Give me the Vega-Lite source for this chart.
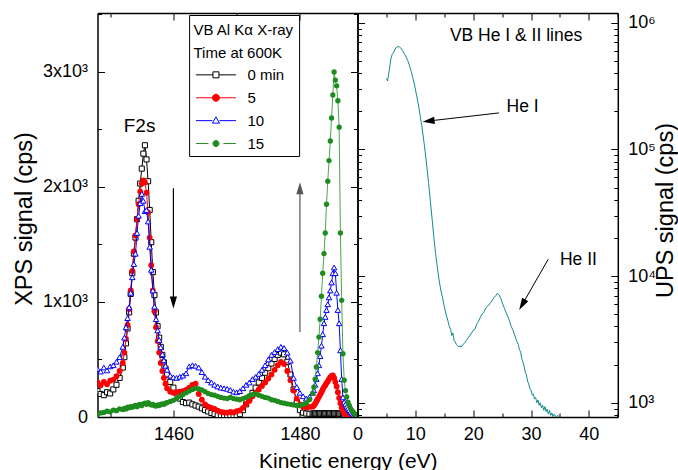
{
"$schema": "https://vega.github.io/schema/vega-lite/v6.json",
"padding": {"left": 12.5, "top": 5, "right": 0, "bottom": 0},
"bounds": "flush",
"spacing": 0,
"config": {
  "font": "Liberation Sans",
  "view": {"stroke": null},
  "axis": {"grid": false, "domainColor": "black", "domainWidth": 1.5, "tickColor": "black", "tickWidth": 1, "labelColor": "black", "titleColor": "black", "labelFontSize": 18, "titleFontWeight": "normal", "labelFlush": false, "labelOverlap": false, "labelBound": false}
},
"resolve": {"legend": {"stroke": "independent", "fill": "independent", "shape": "independent"}},
"datasets": {
"xps": [
{"s":"0 min","e":1448,"v":225},{"s":"0 min","e":1448.5,"v":200},{"s":"0 min","e":1449,"v":190},{"s":"0 min","e":1449.5,"v":215},{"s":"0 min","e":1450,"v":205},{"s":"0 min","e":1450.5,"v":240},{"s":"0 min","e":1451,"v":280},{"s":"0 min","e":1451.5,"v":340},
{"s":"0 min","e":1452,"v":430},{"s":"0 min","e":1452.25,"v":520},{"s":"0 min","e":1452.5,"v":640},{"s":"0 min","e":1452.75,"v":770},{"s":"0 min","e":1453,"v":910},{"s":"0 min","e":1453.25,"v":1070},{"s":"0 min","e":1453.5,"v":1250},{"s":"0 min","e":1453.75,"v":1420},{"s":"0 min","e":1454,"v":1560},{"s":"0 min","e":1454.25,"v":1720},{"s":"0 min","e":1454.5,"v":1880},{"s":"0 min","e":1454.75,"v":2030},{"s":"0 min","e":1455,"v":2160},{"s":"0 min","e":1455.25,"v":2290},{"s":"0 min","e":1455.5,"v":2363},{"s":"0 min","e":1455.75,"v":2240},{"s":"0 min","e":1456,"v":2050},{"s":"0 min","e":1456.25,"v":1800},{"s":"0 min","e":1456.5,"v":1520},{"s":"0 min","e":1456.75,"v":1260},{"s":"0 min","e":1457,"v":1060},{"s":"0 min","e":1457.25,"v":910},{"s":"0 min","e":1457.5,"v":790},{"s":"0 min","e":1457.75,"v":690},{"s":"0 min","e":1458,"v":610},{"s":"0 min","e":1458.25,"v":540},{"s":"0 min","e":1458.5,"v":475},{"s":"0 min","e":1458.75,"v":420},
{"s":"0 min","e":1459,"v":370},{"s":"0 min","e":1459.5,"v":305},{"s":"0 min","e":1460,"v":255},{"s":"0 min","e":1460.5,"v":205},{"s":"0 min","e":1461,"v":160},{"s":"0 min","e":1461.5,"v":130},{"s":"0 min","e":1462,"v":120},{"s":"0 min","e":1462.5,"v":125},{"s":"0 min","e":1463,"v":110},{"s":"0 min","e":1463.5,"v":100},{"s":"0 min","e":1464,"v":90},{"s":"0 min","e":1464.5,"v":75},{"s":"0 min","e":1465,"v":60},{"s":"0 min","e":1465.5,"v":48},{"s":"0 min","e":1466,"v":35},{"s":"0 min","e":1466.5,"v":25},{"s":"0 min","e":1467,"v":15},{"s":"0 min","e":1467.5,"v":10},{"s":"0 min","e":1468,"v":8},{"s":"0 min","e":1468.5,"v":10},{"s":"0 min","e":1469,"v":6},{"s":"0 min","e":1469.5,"v":8},{"s":"0 min","e":1470,"v":12},{"s":"0 min","e":1470.5,"v":25},{"s":"0 min","e":1471,"v":60},{"s":"0 min","e":1471.5,"v":110},{"s":"0 min","e":1472,"v":160},{"s":"0 min","e":1472.5,"v":210},{"s":"0 min","e":1473,"v":255},{"s":"0 min","e":1473.5,"v":300},{"s":"0 min","e":1474,"v":340},{"s":"0 min","e":1474.5,"v":385},{"s":"0 min","e":1475,"v":425},{"s":"0 min","e":1475.5,"v":465},{"s":"0 min","e":1476,"v":505},{"s":"0 min","e":1476.5,"v":540},{"s":"0 min","e":1477,"v":560},{"s":"0 min","e":1477.5,"v":545},{"s":"0 min","e":1478,"v":480},{"s":"0 min","e":1478.5,"v":370},{"s":"0 min","e":1479,"v":240},{"s":"0 min","e":1479.5,"v":130},{"s":"0 min","e":1480,"v":60},{"s":"0 min","e":1480.5,"v":38},{"s":"0 min","e":1481,"v":30},{"s":"0 min","e":1481.5,"v":28},
{"s":"0 min","e":1482,"v":30},{"s":"0 min","e":1482.2,"v":28},{"s":"0 min","e":1482.4,"v":32},{"s":"0 min","e":1482.6,"v":30},{"s":"0 min","e":1482.8,"v":27},{"s":"0 min","e":1483,"v":31},{"s":"0 min","e":1483.2,"v":29},{"s":"0 min","e":1483.4,"v":30},{"s":"0 min","e":1483.6,"v":33},{"s":"0 min","e":1483.8,"v":28},{"s":"0 min","e":1484,"v":30},{"s":"0 min","e":1484.2,"v":31},{"s":"0 min","e":1484.4,"v":29},{"s":"0 min","e":1484.6,"v":30},{"s":"0 min","e":1484.8,"v":32},{"s":"0 min","e":1485,"v":30},{"s":"0 min","e":1485.2,"v":28},{"s":"0 min","e":1485.4,"v":30},{"s":"0 min","e":1485.6,"v":31},{"s":"0 min","e":1485.8,"v":29},{"s":"0 min","e":1486,"v":30},{"s":"0 min","e":1486.2,"v":28},{"s":"0 min","e":1486.4,"v":27},{"s":"0 min","e":1486.6,"v":25},{"s":"0 min","e":1486.8,"v":22},{"s":"0 min","e":1487,"v":20},{"s":"0 min","e":1487.2,"v":18},{"s":"0 min","e":1487.4,"v":15},{"s":"0 min","e":1487.6,"v":12},{"s":"0 min","e":1487.8,"v":10},{"s":"0 min","e":1488,"v":8},{"s":"0 min","e":1488.2,"v":6},{"s":"0 min","e":1488.4,"v":5},{"s":"0 min","e":1488.6,"v":4},{"s":"0 min","e":1488.8,"v":3},{"s":"0 min","e":1489,"v":2},

{"s":"5","e":1448,"v":300},{"s":"5","e":1448.5,"v":275},{"s":"5","e":1449,"v":305},{"s":"5","e":1449.5,"v":285},{"s":"5","e":1450,"v":315},{"s":"5","e":1450.5,"v":325},{"s":"5","e":1451,"v":355},{"s":"5","e":1451.5,"v":400},
{"s":"5","e":1452,"v":470},{"s":"5","e":1452.25,"v":560},{"s":"5","e":1452.5,"v":680},{"s":"5","e":1452.75,"v":800},{"s":"5","e":1453,"v":940},{"s":"5","e":1453.25,"v":1100},{"s":"5","e":1453.5,"v":1270},{"s":"5","e":1453.75,"v":1440},{"s":"5","e":1454,"v":1580},{"s":"5","e":1454.25,"v":1720},{"s":"5","e":1454.5,"v":1850},{"s":"5","e":1454.75,"v":1960},{"s":"5","e":1455,"v":2030},{"s":"5","e":1455.25,"v":2058},{"s":"5","e":1455.5,"v":2040},{"s":"5","e":1455.75,"v":1950},{"s":"5","e":1456,"v":1780},{"s":"5","e":1456.25,"v":1560},{"s":"5","e":1456.5,"v":1320},{"s":"5","e":1456.75,"v":1100},{"s":"5","e":1457,"v":920},{"s":"5","e":1457.25,"v":780},{"s":"5","e":1457.5,"v":660},{"s":"5","e":1457.75,"v":560},{"s":"5","e":1458,"v":470},{"s":"5","e":1458.25,"v":400},{"s":"5","e":1458.5,"v":340},{"s":"5","e":1458.75,"v":290},
{"s":"5","e":1459,"v":250},{"s":"5","e":1459.5,"v":220},{"s":"5","e":1460,"v":210},{"s":"5","e":1460.5,"v":215},{"s":"5","e":1461,"v":220},{"s":"5","e":1461.5,"v":225},{"s":"5","e":1462,"v":235},{"s":"5","e":1462.5,"v":255},{"s":"5","e":1463,"v":280},{"s":"5","e":1463.5,"v":290},{"s":"5","e":1464,"v":200},{"s":"5","e":1464.5,"v":150},{"s":"5","e":1465,"v":110},{"s":"5","e":1465.5,"v":90},{"s":"5","e":1466,"v":80},{"s":"5","e":1466.5,"v":70},{"s":"5","e":1467,"v":55},{"s":"5","e":1467.5,"v":45},{"s":"5","e":1468,"v":40},{"s":"5","e":1468.5,"v":38},{"s":"5","e":1469,"v":45},{"s":"5","e":1469.5,"v":40},{"s":"5","e":1470,"v":50},{"s":"5","e":1470.5,"v":58},{"s":"5","e":1471,"v":80},{"s":"5","e":1471.5,"v":115},{"s":"5","e":1472,"v":140},{"s":"5","e":1472.5,"v":180},{"s":"5","e":1473,"v":210},{"s":"5","e":1473.5,"v":240},{"s":"5","e":1474,"v":270},{"s":"5","e":1474.5,"v":300},{"s":"5","e":1475,"v":335},{"s":"5","e":1475.5,"v":370},{"s":"5","e":1476,"v":410},{"s":"5","e":1476.5,"v":450},{"s":"5","e":1477,"v":478},{"s":"5","e":1477.5,"v":460},{"s":"5","e":1478,"v":400},{"s":"5","e":1478.5,"v":320},{"s":"5","e":1479,"v":230},{"s":"5","e":1479.5,"v":160},{"s":"5","e":1480,"v":110},{"s":"5","e":1480.5,"v":90},{"s":"5","e":1481,"v":85},{"s":"5","e":1481.5,"v":88},
{"s":"5","e":1482,"v":90},{"s":"5","e":1482.2,"v":100},{"s":"5","e":1482.4,"v":115},{"s":"5","e":1482.6,"v":135},{"s":"5","e":1482.8,"v":155},{"s":"5","e":1483,"v":175},{"s":"5","e":1483.2,"v":195},{"s":"5","e":1483.4,"v":215},{"s":"5","e":1483.6,"v":240},{"s":"5","e":1483.8,"v":260},{"s":"5","e":1484,"v":275},{"s":"5","e":1484.2,"v":295},{"s":"5","e":1484.4,"v":310},{"s":"5","e":1484.6,"v":330},{"s":"5","e":1484.8,"v":345},{"s":"5","e":1485,"v":358},{"s":"5","e":1485.2,"v":362},{"s":"5","e":1485.4,"v":340},{"s":"5","e":1485.6,"v":305},{"s":"5","e":1485.8,"v":265},{"s":"5","e":1486,"v":215},{"s":"5","e":1486.2,"v":165},{"s":"5","e":1486.4,"v":120},{"s":"5","e":1486.6,"v":80},{"s":"5","e":1486.8,"v":50},{"s":"5","e":1487,"v":35},{"s":"5","e":1487.2,"v":25},{"s":"5","e":1487.4,"v":18},{"s":"5","e":1487.6,"v":12},{"s":"5","e":1487.8,"v":9},{"s":"5","e":1488,"v":7},{"s":"5","e":1488.2,"v":5},{"s":"5","e":1488.4,"v":4},{"s":"5","e":1488.6,"v":3},{"s":"5","e":1488.8,"v":2},{"s":"5","e":1489,"v":2},

{"s":"10","e":1448,"v":420},{"s":"10","e":1448.5,"v":395},{"s":"10","e":1449,"v":430},{"s":"10","e":1449.5,"v":405},{"s":"10","e":1450,"v":440},{"s":"10","e":1450.5,"v":450},{"s":"10","e":1451,"v":480},{"s":"10","e":1451.5,"v":520},
{"s":"10","e":1452,"v":610},{"s":"10","e":1452.25,"v":690},{"s":"10","e":1452.5,"v":780},{"s":"10","e":1452.75,"v":860},{"s":"10","e":1453,"v":954},{"s":"10","e":1453.25,"v":1080},{"s":"10","e":1453.5,"v":1215},{"s":"10","e":1453.75,"v":1330},{"s":"10","e":1454,"v":1420},{"s":"10","e":1454.25,"v":1600},{"s":"10","e":1454.5,"v":1750},{"s":"10","e":1454.75,"v":1860},{"s":"10","e":1455,"v":1940},{"s":"10","e":1455.25,"v":1880},{"s":"10","e":1455.5,"v":1790},{"s":"10","e":1455.75,"v":1800},{"s":"10","e":1456,"v":1700},{"s":"10","e":1456.25,"v":1480},{"s":"10","e":1456.5,"v":1280},{"s":"10","e":1456.75,"v":1100},{"s":"10","e":1457,"v":960},{"s":"10","e":1457.25,"v":850},{"s":"10","e":1457.5,"v":753},{"s":"10","e":1457.75,"v":670},{"s":"10","e":1458,"v":606},{"s":"10","e":1458.25,"v":545},{"s":"10","e":1458.5,"v":493},{"s":"10","e":1458.75,"v":445},
{"s":"10","e":1459,"v":410},{"s":"10","e":1459.5,"v":360},{"s":"10","e":1460,"v":345},{"s":"10","e":1460.5,"v":340},{"s":"10","e":1461,"v":350},{"s":"10","e":1461.5,"v":360},{"s":"10","e":1462,"v":380},{"s":"10","e":1462.5,"v":440},{"s":"10","e":1463,"v":450},{"s":"10","e":1463.5,"v":445},{"s":"10","e":1464,"v":430},{"s":"10","e":1464.5,"v":390},{"s":"10","e":1465,"v":350},{"s":"10","e":1465.5,"v":320},{"s":"10","e":1466,"v":300},{"s":"10","e":1466.5,"v":280},{"s":"10","e":1467,"v":265},{"s":"10","e":1467.5,"v":255},{"s":"10","e":1468,"v":250},{"s":"10","e":1468.5,"v":245},{"s":"10","e":1469,"v":235},{"s":"10","e":1469.5,"v":220},{"s":"10","e":1470,"v":215},{"s":"10","e":1470.5,"v":225},{"s":"10","e":1471,"v":250},{"s":"10","e":1471.5,"v":280},{"s":"10","e":1472,"v":300},{"s":"10","e":1472.5,"v":330},{"s":"10","e":1473,"v":350},{"s":"10","e":1473.5,"v":375},{"s":"10","e":1474,"v":410},{"s":"10","e":1474.5,"v":450},{"s":"10","e":1475,"v":500},{"s":"10","e":1475.5,"v":540},{"s":"10","e":1476,"v":565},{"s":"10","e":1476.5,"v":590},{"s":"10","e":1477,"v":610},{"s":"10","e":1477.5,"v":600},{"s":"10","e":1478,"v":560},{"s":"10","e":1478.5,"v":490},{"s":"10","e":1479,"v":340},{"s":"10","e":1479.5,"v":260},{"s":"10","e":1480,"v":210},{"s":"10","e":1480.5,"v":180},{"s":"10","e":1481,"v":160},{"s":"10","e":1481.5,"v":175},
{"s":"10","e":1482,"v":210},{"s":"10","e":1482.2,"v":232},{"s":"10","e":1482.4,"v":280},{"s":"10","e":1482.6,"v":330},{"s":"10","e":1482.8,"v":380},{"s":"10","e":1483,"v":450},{"s":"10","e":1483.2,"v":530},{"s":"10","e":1483.4,"v":620},{"s":"10","e":1483.6,"v":720},{"s":"10","e":1483.8,"v":815},{"s":"10","e":1484,"v":870},{"s":"10","e":1484.2,"v":930},{"s":"10","e":1484.4,"v":980},{"s":"10","e":1484.6,"v":1040},{"s":"10","e":1484.8,"v":1100},{"s":"10","e":1485,"v":1170},{"s":"10","e":1485.2,"v":1250},{"s":"10","e":1485.4,"v":1300},{"s":"10","e":1485.6,"v":1250},{"s":"10","e":1485.8,"v":1080},{"s":"10","e":1486,"v":930},{"s":"10","e":1486.2,"v":815},{"s":"10","e":1486.4,"v":580},{"s":"10","e":1486.6,"v":330},{"s":"10","e":1486.8,"v":170},{"s":"10","e":1487,"v":130},{"s":"10","e":1487.2,"v":110},{"s":"10","e":1487.4,"v":90},{"s":"10","e":1487.6,"v":75},{"s":"10","e":1487.8,"v":60},{"s":"10","e":1488,"v":45},{"s":"10","e":1488.2,"v":35},{"s":"10","e":1488.4,"v":28},{"s":"10","e":1488.6,"v":20},{"s":"10","e":1488.8,"v":15},{"s":"10","e":1489,"v":10},

{"s":"15","e":1448,"v":20},{"s":"15","e":1448.5,"v":35},{"s":"15","e":1449,"v":40},{"s":"15","e":1449.5,"v":50},{"s":"15","e":1450,"v":45},{"s":"15","e":1450.5,"v":60},{"s":"15","e":1451,"v":55},{"s":"15","e":1451.5,"v":70},
{"s":"15","e":1452,"v":65},{"s":"15","e":1452.25,"v":75},{"s":"15","e":1452.5,"v":70},{"s":"15","e":1452.75,"v":85},{"s":"15","e":1453,"v":80},{"s":"15","e":1453.25,"v":90},{"s":"15","e":1453.5,"v":85},{"s":"15","e":1453.75,"v":95},{"s":"15","e":1454,"v":100},{"s":"15","e":1454.25,"v":90},{"s":"15","e":1454.5,"v":105},{"s":"15","e":1454.75,"v":110},{"s":"15","e":1455,"v":100},{"s":"15","e":1455.25,"v":115},{"s":"15","e":1455.5,"v":120},{"s":"15","e":1455.75,"v":110},{"s":"15","e":1456,"v":125},{"s":"15","e":1456.25,"v":115},{"s":"15","e":1456.5,"v":105},{"s":"15","e":1456.75,"v":110},{"s":"15","e":1457,"v":100},{"s":"15","e":1457.25,"v":95},{"s":"15","e":1457.5,"v":105},{"s":"15","e":1457.75,"v":100},{"s":"15","e":1458,"v":110},{"s":"15","e":1458.25,"v":115},{"s":"15","e":1458.5,"v":110},{"s":"15","e":1458.75,"v":120},
{"s":"15","e":1459,"v":125},{"s":"15","e":1459.5,"v":135},{"s":"15","e":1460,"v":145},{"s":"15","e":1460.5,"v":160},{"s":"15","e":1461,"v":180},{"s":"15","e":1461.5,"v":195},{"s":"15","e":1462,"v":210},{"s":"15","e":1462.5,"v":225},{"s":"15","e":1463,"v":240},{"s":"15","e":1463.5,"v":250},{"s":"15","e":1464,"v":245},{"s":"15","e":1464.5,"v":235},{"s":"15","e":1465,"v":220},{"s":"15","e":1465.5,"v":205},{"s":"15","e":1466,"v":195},{"s":"15","e":1466.5,"v":190},{"s":"15","e":1467,"v":180},{"s":"15","e":1467.5,"v":170},{"s":"15","e":1468,"v":165},{"s":"15","e":1468.5,"v":160},{"s":"15","e":1469,"v":170},{"s":"15","e":1469.5,"v":160},{"s":"15","e":1470,"v":155},{"s":"15","e":1470.5,"v":150},{"s":"15","e":1471,"v":160},{"s":"15","e":1471.5,"v":170},{"s":"15","e":1472,"v":185},{"s":"15","e":1472.5,"v":195},{"s":"15","e":1473,"v":200},{"s":"15","e":1473.5,"v":190},{"s":"15","e":1474,"v":180},{"s":"15","e":1474.5,"v":170},{"s":"15","e":1475,"v":165},{"s":"15","e":1475.5,"v":150},{"s":"15","e":1476,"v":145},{"s":"15","e":1476.5,"v":135},{"s":"15","e":1477,"v":125},{"s":"15","e":1477.5,"v":120},{"s":"15","e":1478,"v":115},{"s":"15","e":1478.5,"v":110},{"s":"15","e":1479,"v":105},{"s":"15","e":1479.5,"v":100},{"s":"15","e":1480,"v":100},{"s":"15","e":1480.5,"v":110},{"s":"15","e":1481,"v":120},{"s":"15","e":1481.5,"v":150},
{"s":"15","e":1482,"v":206},{"s":"15","e":1482.2,"v":260},{"s":"15","e":1482.4,"v":330},{"s":"15","e":1482.6,"v":435},{"s":"15","e":1482.8,"v":560},{"s":"15","e":1483,"v":695},{"s":"15","e":1483.2,"v":850},{"s":"15","e":1483.4,"v":1050},{"s":"15","e":1483.6,"v":1250},{"s":"15","e":1483.8,"v":1420},{"s":"15","e":1484,"v":1600},{"s":"15","e":1484.2,"v":1850},{"s":"15","e":1484.4,"v":2050},{"s":"15","e":1484.6,"v":2230},{"s":"15","e":1484.8,"v":2400},{"s":"15","e":1485,"v":2600},{"s":"15","e":1485.2,"v":2800},{"s":"15","e":1485.4,"v":3000},{"s":"15","e":1485.6,"v":2930},{"s":"15","e":1485.8,"v":2880},{"s":"15","e":1486,"v":2750},{"s":"15","e":1486.2,"v":2520},{"s":"15","e":1486.4,"v":1600},{"s":"15","e":1486.6,"v":1015},{"s":"15","e":1486.8,"v":550},{"s":"15","e":1487,"v":320},{"s":"15","e":1487.2,"v":230},{"s":"15","e":1487.4,"v":175},{"s":"15","e":1487.6,"v":130},{"s":"15","e":1487.8,"v":100},{"s":"15","e":1488,"v":75},{"s":"15","e":1488.2,"v":58},{"s":"15","e":1488.4,"v":45},{"s":"15","e":1488.6,"v":30},{"s":"15","e":1488.8,"v":20},{"s":"15","e":1489,"v":12}
],
"ups": [
{"e":5.0,"v":363000},{"e":5.2,"v":347000},{"e":5.4,"v":398000},{"e":5.6,"v":457000},{"e":5.8,"v":525000},{"e":6.0,"v":562000},{"e":6.3,"v":589000},{"e":6.6,"v":631000},{"e":6.9,"v":646000},{"e":7.2,"v":646000},{"e":7.5,"v":631000},{"e":7.8,"v":603000},{"e":8.1,"v":569000},{"e":8.4,"v":537000},{"e":8.7,"v":501000},{"e":9.0,"v":457000},{"e":9.3,"v":412000},{"e":9.6,"v":363000},{"e":9.9,"v":316000},{"e":10.2,"v":269000},{"e":10.5,"v":229000},{"e":10.8,"v":188000},{"e":11.1,"v":155000},{"e":11.4,"v":123000},{"e":11.7,"v":95500},{"e":12.0,"v":72400},{"e":12.3,"v":53700},{"e":12.6,"v":38900},{"e":12.9,"v":28200},{"e":13.2,"v":20400},{"e":13.5,"v":15100},{"e":13.8,"v":11700},{"e":14.1,"v":9330},{"e":14.4,"v":7760},{"e":14.7,"v":6760},{"e":15.0,"v":5750},{"e":15.3,"v":5010},{"e":15.6,"v":4470},{"e":15.9,"v":3980},{"e":16.1,"v":3800},{"e":16.3,"v":3390},{"e":16.5,"v":3550},{"e":16.7,"v":3090},{"e":16.9,"v":3020},{"e":17.1,"v":2880},{"e":17.3,"v":2820},{"e":17.5,"v":2750},{"e":17.7,"v":2820},{"e":17.9,"v":2750},{"e":18.2,"v":2880},{"e":18.5,"v":2950},{"e":18.8,"v":3090},{"e":19.1,"v":3240},{"e":19.4,"v":3390},{"e":19.7,"v":3550},{"e":20.0,"v":3720},{"e":20.3,"v":3800},{"e":20.6,"v":4170},{"e":20.9,"v":4370},{"e":21.2,"v":4680},{"e":21.5,"v":5010},{"e":21.8,"v":5130},{"e":22.1,"v":5500},{"e":22.4,"v":5750},{"e":22.7,"v":5890},{"e":23.0,"v":6170},{"e":23.3,"v":6460},{"e":23.6,"v":6760},{"e":23.9,"v":7000},{"e":24.2,"v":7330},{"e":24.5,"v":7080},{"e":24.8,"v":6610},{"e":25.1,"v":6030},{"e":25.4,"v":5560},{"e":25.7,"v":5130},{"e":26.0,"v":4790},{"e":26.3,"v":4370},{"e":26.6,"v":3980},{"e":26.9,"v":3720},{"e":27.2,"v":3390},{"e":27.5,"v":3090},{"e":27.8,"v":2880},{"e":28.0,"v":2630},{"e":28.2,"v":2510},{"e":28.4,"v":2240},{"e":28.6,"v":2090},{"e":28.8,"v":1950},{"e":29.0,"v":1740},{"e":29.2,"v":1660},{"e":29.4,"v":1480},{"e":29.6,"v":1410},{"e":29.8,"v":1290},{"e":30.0,"v":1260},{"e":30.2,"v":1150},{"e":30.4,"v":1170},{"e":30.6,"v":1070},{"e":30.8,"v":1100},{"e":31.0,"v":1000},{"e":31.2,"v":1050},{"e":31.4,"v":955},{"e":31.6,"v":1000},{"e":31.8,"v":912},{"e":32.0,"v":955},{"e":32.2,"v":871},{"e":32.4,"v":933},{"e":32.6,"v":851},{"e":32.8,"v":891},{"e":33.0,"v":813},{"e":33.2,"v":871},{"e":33.4,"v":794},{"e":33.6,"v":832},{"e":33.8,"v":776},{"e":34.0,"v":813},{"e":34.3,"v":776},{"e":34.6,"v":794},{"e":34.9,"v":772},{"e":35.2,"v":776}
],
"xarr": [{"d":"down","e":1460,"v1":1989,"v2":995},{"d":"up","e":1480,"v1":739,"v2":1989}],
"xnote": [{"t":"F2s","e":1454.65,"v":2528}],
"uarr": [{"t":"He I","e1":24.45,"v1":194000,"e2":12.28,"v2":167500},{"t":"He II","e1":32.98,"v1":13600,"e2":28.47,"v2":5937}],
"unote": [{"t":"VB He I & II lines","e":15.97,"v":785000},{"t":"He I","e":25.78,"v":217000},{"t":"He II","e":35.0,"v":13400}]
},
"hconcat": [
{
 "width": 260, "height": 404,
 "resolve": {"axis": {"x": "independent", "y": "independent"}},
 "layer": [
  {"data": {"name": "xps"}, "transform": [{"filter": "datum.s == '0 min'"}],
   "mark": {"type": "line", "color": "black", "strokeWidth": 1, "clip": true},
   "encoding": {
    "x": {"field": "e", "type": "quantitative", "scale": {"domain": [1448, 1489.1], "nice": false, "zero": false},
      "axis": {"orient": "bottom", "values": [1450, 1460, 1470, 1480], "labelExpr": "datum.value == 1460 || datum.value == 1480 ? '' + datum.value : ''", "tickSize": {"condition": {"test": "datum.value == 1460 || datum.value == 1480", "value": -7}, "value": -4}, "labelPadding": 15, "title": "Kinetic energy (eV)", "titleFontSize": 21, "titleX": 250.3, "titleY": 50, "titleBaseline": "alphabetic", "titleAlign": "center"}},
    "y": {"field": "v", "type": "quantitative", "scale": {"domain": [0, 3513], "nice": false, "zero": false},
      "axis": {"orient": "left", "values": [0, 500, 1000, 1500, 2000, 2500, 3000, 3500], "labelExpr": "datum.value == 0 ? '0' : datum.value % 1000 == 0 ? (datum.value / 1000) + 'x10³' : ''", "tickSize": {"condition": {"test": "datum.value % 1000 == 0", "value": -7}, "value": -4}, "labelPadding": 17, "title": "XPS signal (cps)", "titleFontSize": 23.5, "titleX": -72.7, "titleY": 205.5, "titleAngle": 270, "titleBaseline": "middle", "titleAlign": "center"}}
   }},
  {"data": {"name": "xps"}, "transform": [{"filter": "datum.s == '0 min'"}],
   "mark": {"type": "point", "shape": "square", "filled": true, "fill": "white", "stroke": "black", "strokeWidth": 1, "size": 26, "opacity": 1, "clip": true},
   "encoding": {"x": {"field": "e", "type": "quantitative", "axis": null}, "y": {"field": "v", "type": "quantitative", "axis": null}}},
  {"data": {"name": "xps"}, "transform": [{"filter": "datum.s == '5'"}],
   "mark": {"type": "line", "color": "red", "strokeWidth": 1, "clip": true},
   "encoding": {"x": {"field": "e", "type": "quantitative", "axis": null}, "y": {"field": "v", "type": "quantitative", "axis": null}}},
  {"data": {"name": "xps"}, "transform": [{"filter": "datum.s == '5'"}],
   "mark": {"type": "point", "shape": "circle", "filled": true, "color": "red", "size": 34, "opacity": 1, "clip": true},
   "encoding": {"x": {"field": "e", "type": "quantitative", "axis": null}, "y": {"field": "v", "type": "quantitative", "axis": null}}},
  {"data": {"name": "xps"}, "transform": [{"filter": "datum.s == '10'"}],
   "mark": {"type": "line", "color": "blue", "strokeWidth": 1, "clip": true},
   "encoding": {"x": {"field": "e", "type": "quantitative", "axis": null}, "y": {"field": "v", "type": "quantitative", "axis": null}}},
  {"data": {"name": "xps"}, "transform": [{"filter": "datum.s == '10'"}],
   "mark": {"type": "point", "shape": "triangle-up", "filled": true, "fill": "white", "stroke": "blue", "strokeWidth": 1, "size": 30, "opacity": 1, "clip": true},
   "encoding": {"x": {"field": "e", "type": "quantitative", "axis": null}, "y": {"field": "v", "type": "quantitative", "axis": null}}},
  {"data": {"name": "xps"}, "transform": [{"filter": "datum.s == '15'"}],
   "mark": {"type": "line", "color": "#4aa84a", "strokeWidth": 1, "clip": true},
   "encoding": {"x": {"field": "e", "type": "quantitative", "axis": null}, "y": {"field": "v", "type": "quantitative", "axis": null}}},
  {"data": {"name": "xps"}, "transform": [{"filter": "datum.s == '15'"}],
   "mark": {"type": "point", "shape": "circle", "filled": true, "color": "#1e8c1e", "size": 28, "opacity": 1, "clip": true},
   "encoding": {"x": {"field": "e", "type": "quantitative", "axis": null}, "y": {"field": "v", "type": "quantitative", "axis": null}}},
  {"data": {"name": "xps"}, "transform": [{"filter": "datum.s == 'none'"}],
   "mark": {"type": "point", "filled": true, "opacity": 1, "strokeWidth": 1},
   "encoding": {
    "x": {"field": "e", "type": "quantitative", "axis": null}, "y": {"field": "v", "type": "quantitative", "axis": null},
    "stroke": {"field": "s", "type": "nominal", "scale": {"domain": ["0 min", "5", "10", "15"], "range": ["black", "red", "blue", "#1e8c1e"]},
      "legend": {"title": ["VB Al Kα X-ray", "Time at 600K"], "orient": "none", "legendX": 91.6, "legendY": 2, "titleFontSize": 15, "titleFontWeight": "normal", "titleColor": "black", "titleLineHeight": 23, "titleBaseline": "line-top", "titlePadding": 10, "labelFontSize": 15, "labelColor": "black", "labelOffset": 24, "symbolSize": 100, "symbolStrokeWidth": 1, "symbolOffset": 15, "rowPadding": 6.9, "padding": 4.35, "strokeColor": "black", "fillColor": "white"}},
    "fill": {"field": "s", "type": "nominal", "scale": {"domain": ["0 min", "5", "10", "15"], "range": ["white", "red", "white", "#1e8c1e"]}, "legend": {"title": ["VB Al Kα X-ray", "Time at 600K"]}},
    "shape": {"field": "s", "type": "nominal", "scale": {"domain": ["0 min", "5", "10", "15"], "range": ["M-4,0H-0.6M0.6,0H4M-0.6,-0.6H0.6V0.6H-0.6Z", "M-4,0H4M-0.7,0A0.7,0.7,0,1,0,0.7,0A0.7,0.7,0,1,0,-0.7,0Z", "M-4,0H-0.7M0.7,0H4M0,-0.75L0.7,0.5H-0.7Z", "M-4,0H-1.5M1.5,0H4M-0.6,0A0.6,0.6,0,1,0,0.6,0A0.6,0.6,0,1,0,-0.6,0Z"]}, "legend": {"title": ["VB Al Kα X-ray", "Time at 600K"]}}
   }},
  {"data": {"name": "xarr"},
   "mark": {"type": "rule", "strokeWidth": 1.2},
   "encoding": {
    "x": {"field": "e", "type": "quantitative", "scale": {"domain": [1448, 1489.1], "nice": false, "zero": false},
      "axis": {"orient": "top", "values": [1450, 1460, 1470, 1480], "labels": false, "title": null, "tickSize": {"condition": {"test": "datum.value == 1460 || datum.value == 1480", "value": -7}, "value": -4}}},
    "y": {"field": "v1", "type": "quantitative", "scale": {"domain": [0, 3513], "nice": false, "zero": false},
      "axis": {"orient": "right", "values": [0, 500, 1000, 1500, 2000, 2500, 3000, 3500], "labels": false, "title": null, "tickSize": {"condition": {"test": "datum.value % 1000 == 0", "value": -7}, "value": -4}}},
    "y2": {"field": "v2"},
    "color": {"condition": {"test": "datum.d == 'up'", "value": "#555555"}, "value": "black"}
   }},
  {"data": {"name": "xarr"},
   "mark": {"type": "point", "filled": true, "opacity": 1, "size": 144, "strokeWidth": 0},
   "encoding": {
    "x": {"field": "e", "type": "quantitative", "axis": null},
    "y": {"field": "v2", "type": "quantitative", "axis": null},
    "shape": {"condition": {"test": "datum.d == 'up'", "value": "M-0.6,1L0.6,1L0,-1Z"}, "value": "M-0.6,-1L0.6,-1L0,1Z"},
    "color": {"condition": {"test": "datum.d == 'up'", "value": "#555555"}, "value": "black"}
   }},
  {"data": {"name": "xnote"},
   "mark": {"type": "text", "fontSize": 19, "color": "black", "align": "center", "baseline": "middle"},
   "encoding": {"x": {"field": "e", "type": "quantitative", "axis": null}, "y": {"field": "v", "type": "quantitative", "axis": null}, "text": {"field": "t"}}}
 ]
},
{
 "width": 260.3, "height": 404,
 "resolve": {"axis": {"x": "independent", "y": "independent"}},
 "layer": [
  {"data": {"name": "ups"},
   "mark": {"type": "line", "color": "#138a8c", "strokeWidth": 1, "clip": true},
   "encoding": {
    "x": {"field": "e", "type": "quantitative", "scale": {"domain": [0, 45], "nice": false, "zero": false},
      "axis": {"orient": "bottom", "values": [0, 5, 10, 15, 20, 25, 30, 35, 40, 45], "labelExpr": "datum.value % 10 == 0 ? '' + datum.value : ''", "tickSize": {"condition": {"test": "datum.value % 10 == 0", "value": -7}, "value": -4}, "labelPadding": 15, "title": null}},
    "y": {"field": "v", "type": "quantitative", "scale": {"type": "log", "domain": [772, 1193000], "nice": false},
      "axis": {"orient": "right", "values": [800, 900, 1000, 2000, 3000, 4000, 5000, 6000, 7000, 8000, 9000, 10000, 20000, 30000, 40000, 50000, 60000, 70000, 80000, 90000, 100000, 200000, 300000, 400000, 500000, 600000, 700000, 800000, 900000, 1000000], "labelExpr": "datum.value == 1000 ? '10³' : datum.value == 10000 ? '10⁴' : datum.value == 100000 ? '10⁵' : datum.value == 1000000 ? '10⁶' : ''", "tickSize": {"condition": {"test": "datum.value == 1000 || datum.value == 10000 || datum.value == 100000 || datum.value == 1000000", "value": -7}, "value": -4}, "labelPadding": 17, "title": "UPS signal (cps)", "titleFontSize": 23.5, "titleX": 48, "titleY": 197, "titleAngle": 270, "titleBaseline": "middle", "titleAlign": "center"}}
   }},
  {"data": {"name": "uarr"},
   "mark": {"type": "rule", "strokeWidth": 1, "color": "black"},
   "encoding": {
    "x": {"field": "e1", "type": "quantitative", "scale": {"domain": [0, 45], "nice": false, "zero": false},
      "axis": {"orient": "top", "values": [0, 5, 10, 15, 20, 25, 30, 35, 40, 45], "labels": false, "title": null, "tickSize": {"condition": {"test": "datum.value % 10 == 0", "value": -7}, "value": -4}}},
    "x2": {"field": "e2"},
    "y": {"field": "v1", "type": "quantitative", "scale": {"type": "log", "domain": [772, 1193000], "nice": false},
      "axis": {"orient": "left", "values": [800, 900, 1000, 2000, 3000, 4000, 5000, 6000, 7000, 8000, 9000, 10000, 20000, 30000, 40000, 50000, 60000, 70000, 80000, 90000, 100000, 200000, 300000, 400000, 500000, 600000, 700000, 800000, 900000, 1000000], "labels": false, "title": null, "tickSize": {"condition": {"test": "datum.value == 1000 || datum.value == 10000 || datum.value == 100000 || datum.value == 1000000", "value": -7}, "value": -4}}},
    "y2": {"field": "v2"}
   }},
  {"data": {"name": "uarr"},
   "mark": {"type": "point", "filled": true, "opacity": 1, "size": 144, "strokeWidth": 0, "color": "black", "shape": "M-0.6,1L0.6,1L0,-1Z"},
   "encoding": {
    "x": {"field": "e2", "type": "quantitative", "axis": null},
    "y": {"field": "v2", "type": "quantitative", "axis": null},
    "angle": {"condition": {"test": "datum.t == 'He I'", "value": 263.5}, "value": 210}
   }},
  {"data": {"name": "unote"},
   "mark": {"type": "text", "fontSize": 17.5, "color": "black", "align": "left", "baseline": "middle"},
   "encoding": {"x": {"field": "e", "type": "quantitative", "axis": null}, "y": {"field": "v", "type": "quantitative", "axis": null}, "text": {"field": "t"}}}
 ]
}
]
}
